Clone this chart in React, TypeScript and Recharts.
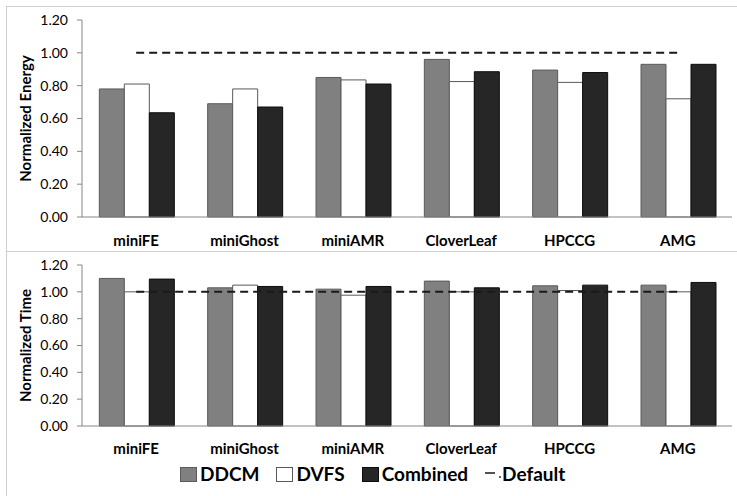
import React from 'react';
import { ComposedChart, Bar, Line, XAxis, YAxis } from 'recharts';

const categories = ['miniFE', 'miniGhost', 'miniAMR', 'CloverLeaf', 'HPCCG', 'AMG'];

const energyDdcm = [0.78, 0.69, 0.85, 0.96, 0.895, 0.93];
const energyDvfs = [0.81, 0.78, 0.835, 0.825, 0.82, 0.72];
const energyCombined = [0.635, 0.67, 0.81, 0.885, 0.88, 0.93];

const timeDdcm = [1.1, 1.03, 1.02, 1.08, 1.045, 1.05];
const timeDvfs = [1.0, 1.05, 0.975, 1.0, 1.01, 1.0];
const timeCombined = [1.095, 1.04, 1.04, 1.03, 1.05, 1.07];

const defaultLevel = [1, 1, 1, 1, 1, 1];

const yTicks = [0, 0.2, 0.4, 0.6, 0.8, 1.0, 1.2];
const bandTicks = [0, 1, 2, 3, 4, 5, 6];

const FONT = 'Lato, "Open Sans", sans-serif';
const AXIS_GRAY = '#868686';
const FRAME_GRAY = '#d0d0d0';

const buildRows = (ddcm: number[], dvfs: number[], combined: number[]) =>
  categories.map((name, i) => ({
    name,
    DDCM: ddcm[i],
    DVFS: dvfs[i],
    Combined: combined[i],
    Default: defaultLevel[i],
  }));

const energyRows = buildRows(energyDdcm, energyDvfs, energyCombined);
const timeRows = buildRows(timeDdcm, timeDvfs, timeCombined);

interface PanelProps {
  rows: ReturnType<typeof buildRows>;
  yLabel: string;
  top: number;
  height: number;
  marginTop: number;
  catHeight: number;
  catMargin: number;
}

const Panel: React.FC<PanelProps> = ({ rows, yLabel, top, height, marginTop, catHeight, catMargin }) => (
  <div style={{ position: 'absolute', left: 0, top }}>
    <ComposedChart
      width={737}
      height={height}
      data={rows}
      margin={{ top: marginTop, right: 5, bottom: 0, left: 0 }}
      barCategoryGap="16%"
      barGap={0}
    >
      {/* axis 0: line + tick marks between the categories, Excel style */}
      <XAxis
        xAxisId={0}
        type="number"
        domain={[0, 6]}
        ticks={bandTicks}
        tick={false}
        tickSize={5}
        height={1}
        stroke={AXIS_GRAY}
        allowDataOverflow
      />
      {/* axis 1: category labels only */}
      <XAxis
        xAxisId={1}
        dataKey="name"
        axisLine={false}
        tickLine={false}
        height={catHeight}
        tickMargin={catMargin}
        interval={0}
        tick={{ fontFamily: FONT, fontSize: 15, fontWeight: 700, fill: '#000' }}
      />
      <YAxis
        width={82}
        domain={[0, 1.2]}
        ticks={yTicks}
        tickFormatter={(v: number) => v.toFixed(2)}
        tickSize={5}
        tickMargin={9}
        stroke={AXIS_GRAY}
        tick={{ fontFamily: FONT, fontSize: 14, fill: '#000' }}
        label={{
          value: yLabel,
          angle: -90,
          position: 'insideLeft',
          dx: 21,
          style: { textAnchor: 'middle', fontFamily: FONT, fontSize: 15, fontWeight: 700, fill: '#000' },
        }}
      />
      <Bar xAxisId={1} dataKey="DDCM" fill="#808080" stroke="#5a5a5a" isAnimationActive={false} />
      <Bar xAxisId={1} dataKey="DVFS" fill="#ffffff" stroke="#595959" isAnimationActive={false} />
      <Bar xAxisId={1} dataKey="Combined" fill="#262626" stroke="#0d0d0d" isAnimationActive={false} />
      <Line
        xAxisId={1}
        dataKey="Default"
        stroke="#1a1a1a"
        strokeWidth={2}
        strokeDasharray="8 5"
        dot={false}
        activeDot={false}
        isAnimationActive={false}
      />
    </ComposedChart>
  </div>
);

const legendItems = [
  { name: 'DDCM', fill: '#808080', stroke: '#5a5a5a' },
  { name: 'DVFS', fill: '#ffffff', stroke: '#595959' },
  { name: 'Combined', fill: '#262626', stroke: '#0d0d0d' },
];

const Legend = () => (
  <div
    style={{
      position: 'absolute',
      left: 180,
      top: 463,
      display: 'flex',
      alignItems: 'center',
      fontFamily: FONT,
      fontSize: 19,
      fontWeight: 700,
      lineHeight: '22px',
      color: '#000',
    }}
  >
    {legendItems.map(item => (
      <div key={item.name} style={{ display: 'flex', alignItems: 'center', marginRight: 17 }}>
        <svg width={18} height={16} style={{ marginRight: 2 }}>
          <rect x={0.5} y={1.5} width={16} height={14} fill={item.fill} stroke={item.stroke} />
        </svg>
        <span>{item.name}</span>
      </div>
    ))}
    <div style={{ display: 'flex', alignItems: 'center' }}>
      <svg width={17} height={16}>
        <line x1={0} y1={7} x2={10} y2={7} stroke="#1a1a1a" strokeWidth={1.5} />
        <circle cx={15} cy={11} r={0.9} fill="#1a1a1a" />
      </svg>
      <span>Default</span>
    </div>
  </div>
);

export default function App() {
  return (
    <div style={{ position: 'absolute', left: 0, top: 0, width: 737, height: 496, background: '#fff', overflow: 'hidden' }}>
      {/* chart frame */}
      <div style={{ position: 'absolute', left: 6, top: 6, width: 1, height: 490, background: FRAME_GRAY }} />
      <div style={{ position: 'absolute', left: 6, top: 6, width: 731, height: 1, background: FRAME_GRAY }} />
      <div style={{ position: 'absolute', left: 6, top: 251, width: 731, height: 1, background: FRAME_GRAY }} />

      <Panel rows={energyRows} yLabel="Normalized Energy" top={0} height={250} marginTop={20} catHeight={32} catMargin={11} />
      <Panel rows={timeRows} yLabel="Normalized Time" top={251} height={245} marginTop={14} catHeight={69} catMargin={10} />
      <Legend />
    </div>
  );
}
